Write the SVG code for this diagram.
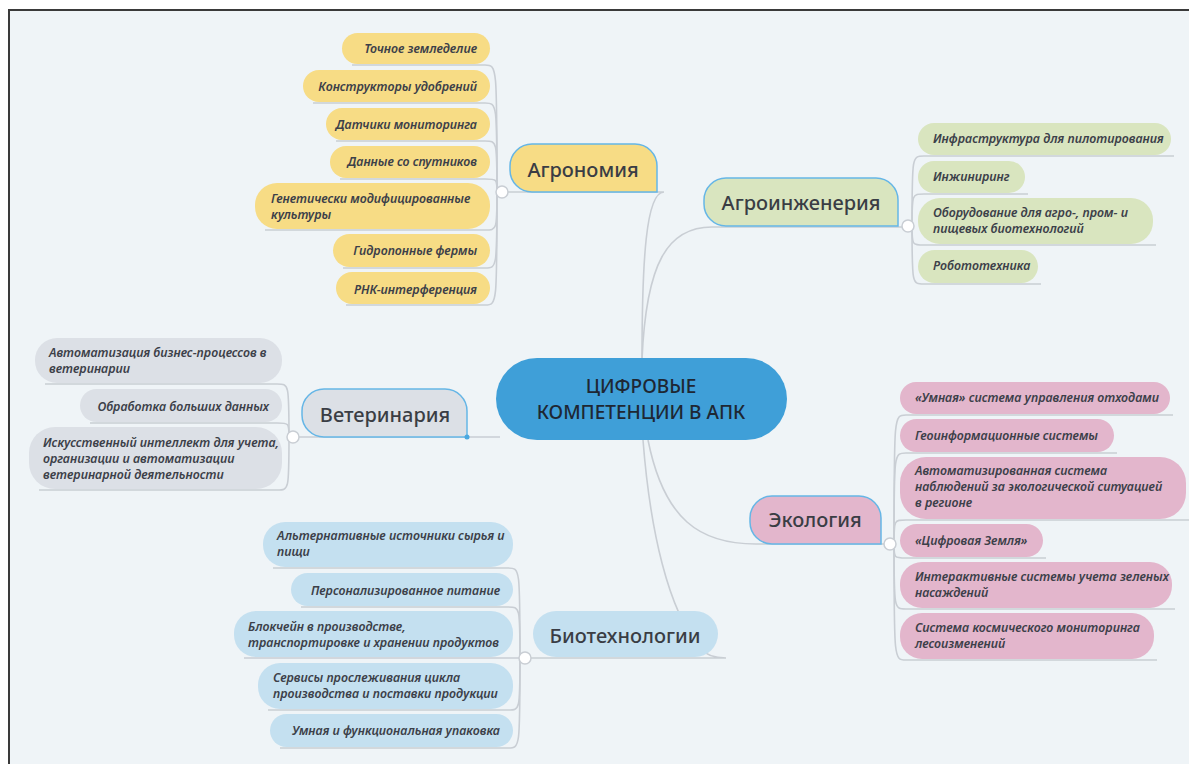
<svg xmlns="http://www.w3.org/2000/svg" width="1189" height="764" viewBox="0 0 1189 764">
<style>
.leaf{font-family:"Noto Sans","Open Sans",sans-serif;font-style:italic;font-weight:600;font-size:12.4px;fill:#3c4049}
.br{font-family:"Noto Sans","Open Sans",sans-serif;font-weight:500;font-size:20px;fill:#3a3d44;text-anchor:middle}
.ctr{font-family:"Noto Sans","Open Sans",sans-serif;font-weight:500;font-size:19px;fill:#1e2733;text-anchor:middle}
.con{fill:none;stroke:#c9ced4;stroke-width:1.6}
.hub{fill:#ffffff;stroke:#c9ced4;stroke-width:1.5}
.bb{stroke:#66b6e6;stroke-width:1.5}
.y{fill:#f7dc85}.g{fill:#d9e5bf}.s{fill:#dce0e6}.p{fill:#e3b6cc}.b{fill:#c4e0f0}
.e{text-anchor:end}
</style>
<rect x="0" y="0" width="1189" height="764" fill="#ffffff"/>
<rect x="10" y="11" width="1179" height="753" fill="#eff4f7"/>
<line x1="8" y1="10" x2="1189" y2="10" stroke="#3a3a3a" stroke-width="2"/>
<line x1="9" y1="9" x2="9" y2="764" stroke="#3a3a3a" stroke-width="2"/>

<g id="connectors">
  <path class="con" d="M642 360 C642 260 646 192 664 192 H500"/>
  <path class="con" d="M642 360 C646 262 668 227 712 227 H906"/>
  <path class="con" d="M500 437 H293"/>
  <path class="con" d="M648 440 C664 520 700 544 756 544 H888"/>
  <path class="con" d="M643 440 C650 530 668 610 700 648 Q708 658 726 658 H525"/>
  <path class="con" d="M497 192 C497 65 497 65 485 65 H352"/>
  <path class="con" d="M497 192 C497 103 497 103 485 103 H313"/>
  <path class="con" d="M497 192 C497 141 497 141 485 141 H336"/>
  <path class="con" d="M497 192 C497 179 497 179 485 179 H340"/>
  <path class="con" d="M497 192 C497 230 497 230 485 230 H265"/>
  <path class="con" d="M497 192 C497 268 497 268 485 268 H343"/>
  <path class="con" d="M497 192 C497 305 497 305 485 305 H346"/>
  <path class="con" d="M912 226 C912 156 912 156 924 156 H1174"/>
  <path class="con" d="M912 226 C912 194 912 194 924 194 H1028"/>
  <path class="con" d="M912 226 C912 245 912 245 924 245 H1156"/>
  <path class="con" d="M912 226 C912 284 912 284 924 284 H1041"/>
  <path class="con" d="M289 437 C289 384 289 384 277 384 H45"/>
  <path class="con" d="M289 437 C289 423 289 423 277 423 H90"/>
  <path class="con" d="M289 437 C289 490 289 490 277 490 H39"/>
  <path class="con" d="M894 544 C894 415 894 415 906 415 H1173"/>
  <path class="con" d="M894 544 C894 453 894 453 906 453 H1117"/>
  <path class="con" d="M894 544 C894 520 894 520 906 520 H1189"/>
  <path class="con" d="M894 544 C894 558 894 558 906 558 H1046"/>
  <path class="con" d="M894 544 C894 609 894 609 906 609 H1175"/>
  <path class="con" d="M894 544 C894 660 894 660 906 660 H1157"/>
  <path class="con" d="M520 658 C520 568 520 568 508 568 H273"/>
  <path class="con" d="M520 658 C520 607 520 607 508 607 H301"/>
  <path class="con" d="M520 658 C520 658 520 658 508 658 H244"/>
  <path class="con" d="M520 658 C520 710 520 710 508 710 H268"/>
  <path class="con" d="M520 658 C520 748 520 748 508 748 H280"/>
</g>

<g id="center">
  <rect x="496" y="358" width="291" height="82" rx="41" fill="#3f9fd8"/>
  <text class="ctr" x="641" y="393">ЦИФРОВЫЕ</text>
  <text class="ctr" x="641" y="419">КОМПЕТЕНЦИИ В АПК</text>
</g>

<g id="agronomy">
  <path class="y bb" d="M532 144 H635 A22 22 0 0 1 657 166 V192 H532 A22 22 0 0 1 510 170 V166 A22 22 0 0 1 532 144 Z"/>
  <text class="br" x="583" y="177">Агрономия</text>
  <circle class="hub" cx="502" cy="192" r="6"/>
</g>
<g id="agro-leaves">
  <rect class="y" x="342" y="33" width="148" height="31" rx="15.5"/>
  <text class="leaf e" x="477" y="53">Точное земледелие</text>
  <rect class="y" x="303" y="70" width="187" height="32" rx="16"/>
  <text class="leaf e" x="477" y="91">Конструкторы удобрений</text>
  <rect class="y" x="326" y="108" width="164" height="32" rx="16"/>
  <text class="leaf e" x="477" y="129">Датчики мониторинга</text>
  <rect class="y" x="330" y="146" width="160" height="32" rx="16"/>
  <text class="leaf e" x="477" y="166">Данные со спутников</text>
  <rect class="y" x="255" y="183" width="235" height="46" rx="22"/>
  <text class="leaf" x="271" y="203">Генетически модифицированные</text>
  <text class="leaf" x="271" y="219">культуры</text>
  <rect class="y" x="333" y="234" width="157" height="33" rx="16.5"/>
  <text class="leaf e" x="477" y="255">Гидропонные фермы</text>
  <rect class="y" x="336" y="272" width="154" height="32" rx="16"/>
  <text class="leaf e" x="477" y="294">РНК-интерференция</text>
</g>

<g id="agroengineering">
  <path class="g bb" d="M726 178 H876 A22 22 0 0 1 898 200 V226 H726 A22 22 0 0 1 704 204 V200 A22 22 0 0 1 726 178 Z"/>
  <text class="br" x="801" y="210">Агроинженерия</text>
  <circle class="hub" cx="908" cy="226" r="6"/>
</g>
<g id="agroeng-leaves">
  <rect class="g" x="918" y="123" width="253" height="32" rx="16"/>
  <text class="leaf" x="933" y="143">Инфраструктура для пилотирования</text>
  <rect class="g" x="918" y="161" width="107" height="32" rx="16"/>
  <text class="leaf" x="933" y="181">Инжиниринг</text>
  <rect class="g" x="918" y="198" width="235" height="46" rx="22"/>
  <text class="leaf" x="933" y="217">Оборудование для агро-, пром- и</text>
  <text class="leaf" x="933" y="233">пищевых биотехнологий</text>
  <rect class="g" x="918" y="250" width="120" height="33" rx="16.5"/>
  <text class="leaf" x="933" y="270">Робототехника</text>
</g>

<g id="veterinary">
  <path class="s bb" d="M324 389 H445 A22 22 0 0 1 467 411 V437 H324 A22 22 0 0 1 302 415 V411 A22 22 0 0 1 324 389 Z"/>
  <text class="br" x="385" y="422">Ветеринария</text>
  <circle cx="467" cy="437" r="2.5" fill="#4aa8e0"/>
  <circle class="hub" cx="293" cy="437" r="6"/>
</g>
<g id="vet-leaves">
  <rect class="s" x="35" y="338" width="247" height="45" rx="22"/>
  <text class="leaf" x="49" y="357">Автоматизация бизнес-процессов в</text>
  <text class="leaf" x="49" y="373">ветеринарии</text>
  <rect class="s" x="80" y="389" width="202" height="33" rx="16.5"/>
  <text class="leaf e" x="269" y="411">Обработка больших данных</text>
  <rect class="s" x="29" y="427" width="253" height="62" rx="26"/>
  <text class="leaf" x="43" y="447">Искусственный интеллект для учета,</text>
  <text class="leaf" x="43" y="463">организации и автоматизации</text>
  <text class="leaf" x="43" y="479">ветеринарной деятельности</text>
</g>

<g id="ecology">
  <path class="p bb" d="M772 496 H859 A22 22 0 0 1 881 518 V544 H772 A22 22 0 0 1 750 522 V518 A22 22 0 0 1 772 496 Z"/>
  <text class="br" x="815" y="527">Экология</text>
  <circle class="hub" cx="890" cy="544" r="6"/>
</g>
<g id="eco-leaves">
  <rect class="p" x="900" y="382" width="270" height="32" rx="16"/>
  <text class="leaf" x="915" y="402">«Умная» система управления отходами</text>
  <rect class="p" x="900" y="419" width="214" height="33" rx="16.5"/>
  <text class="leaf" x="915" y="440">Геоинформационные системы</text>
  <rect class="p" x="900" y="457" width="286" height="62" rx="26"/>
  <text class="leaf" x="915" y="475">Автоматизированная система</text>
  <text class="leaf" x="915" y="491">наблюдений за экологической ситуацией</text>
  <text class="leaf" x="915" y="507">в регионе</text>
  <rect class="p" x="900" y="524" width="143" height="33" rx="16.5"/>
  <text class="leaf" x="915" y="545">«Цифровая Земля»</text>
  <rect class="p" x="900" y="562" width="272" height="46" rx="22"/>
  <text class="leaf" x="915" y="581">Интерактивные системы учета зеленых</text>
  <text class="leaf" x="915" y="597">насаждений</text>
  <rect class="p" x="900" y="613" width="254" height="46" rx="22"/>
  <text class="leaf" x="915" y="632">Система космического мониторинга</text>
  <text class="leaf" x="915" y="648">лесоизменений</text>
</g>

<g id="biotech">
  <rect class="b" x="533" y="611" width="185" height="46" rx="23"/>
  <text class="br" x="625" y="643">Биотехнологии</text>
  <circle class="hub" cx="525" cy="658" r="6"/>
</g>
<g id="bio-leaves">
  <rect class="b" x="263" y="522" width="250" height="45" rx="22"/>
  <text class="leaf" x="277" y="540">Альтернативные источники сырья и</text>
  <text class="leaf" x="277" y="556">пищи</text>
  <rect class="b" x="291" y="573" width="222" height="33" rx="16.5"/>
  <text class="leaf e" x="500" y="595">Персонализированное питание</text>
  <rect class="b" x="234" y="611" width="279" height="46" rx="22"/>
  <text class="leaf" x="248" y="631">Блокчейн в производстве,</text>
  <text class="leaf" x="248" y="647">транспортировке и хранении продуктов</text>
  <rect class="b" x="258" y="663" width="255" height="46" rx="22"/>
  <text class="leaf" x="273" y="682">Сервисы прослеживания цикла</text>
  <text class="leaf" x="273" y="698">производства и поставки продукции</text>
  <rect class="b" x="270" y="714" width="243" height="33" rx="16.5"/>
  <text class="leaf e" x="500" y="735">Умная и функциональная упаковка</text>
</g>
</svg>
